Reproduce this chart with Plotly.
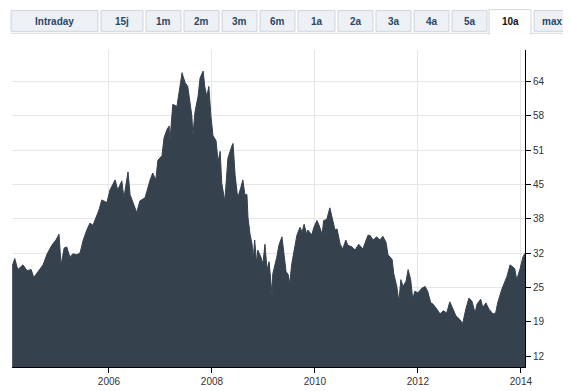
import plotly.graph_objects as go

# ---- data (decimal year, price) ----
years = [2004.12, 2004.17, 2004.23, 2004.33, 2004.41, 2004.49, 2004.54, 2004.60, 2004.72, 2004.80,
         2004.89, 2004.97, 2005.03, 2005.07, 2005.13, 2005.18, 2005.24, 2005.30, 2005.38, 2005.44,
         2005.50, 2005.57, 2005.63, 2005.69, 2005.77, 2005.81, 2005.86, 2005.96, 2006.02, 2006.12,
         2006.17, 2006.25, 2006.29, 2006.37, 2006.41, 2006.50, 2006.54, 2006.60, 2006.70, 2006.80,
         2006.85, 2006.91, 2006.95, 2007.03, 2007.07, 2007.13, 2007.17, 2007.18, 2007.24, 2007.32,
         2007.36, 2007.42, 2007.44, 2007.48, 2007.53, 2007.57, 2007.61, 2007.63, 2007.67, 2007.73,
         2007.77, 2007.83, 2007.86, 2007.90, 2007.94, 2007.98, 2008.02, 2008.08, 2008.12, 2008.16,
         2008.19, 2008.25, 2008.31, 2008.39, 2008.41, 2008.45, 2008.50, 2008.56, 2008.60, 2008.64,
         2008.68, 2008.70, 2008.74, 2008.78, 2008.80, 2008.83, 2008.87, 2008.89, 2008.95, 2008.99,
         2009.03, 2009.07, 2009.11, 2009.17, 2009.18, 2009.26, 2009.30, 2009.36, 2009.40, 2009.44,
         2009.48, 2009.51, 2009.55, 2009.61, 2009.65, 2009.71, 2009.75, 2009.79, 2009.84, 2009.86,
         2009.94, 2009.98, 2010.04, 2010.08, 2010.14, 2010.17, 2010.23, 2010.29, 2010.35, 2010.39,
         2010.43, 2010.49, 2010.54, 2010.60, 2010.64, 2010.72, 2010.78, 2010.85, 2010.93, 2011.03,
         2011.07, 2011.13, 2011.20, 2011.26, 2011.32, 2011.38, 2011.42, 2011.50, 2011.53, 2011.59,
         2011.63, 2011.67, 2011.71, 2011.77, 2011.81, 2011.86, 2011.90, 2011.94, 2012.00, 2012.08,
         2012.14, 2012.19, 2012.25, 2012.29, 2012.37, 2012.43, 2012.49, 2012.56, 2012.62, 2012.68,
         2012.74, 2012.80, 2012.87, 2012.93, 2012.99, 2013.05, 2013.11, 2013.15, 2013.22, 2013.26,
         2013.32, 2013.38, 2013.46, 2013.51, 2013.55, 2013.63, 2013.69, 2013.73, 2013.79, 2013.84,
         2013.88, 2013.92, 2013.98, 2014.04, 2014.08]
prices = [29.0, 30.5, 28.4, 29.3, 28.2, 28.4, 26.9, 27.7, 29.3, 31.4,
          33.0, 34.0, 35.1, 29.3, 32.5, 32.7, 30.8, 31.4, 31.2, 31.6,
          34.0, 35.9, 37.2, 36.8, 38.8, 39.8, 41.6, 41.1, 43.5, 45.4,
          43.5, 45.2, 42.0, 46.9, 42.6, 40.1, 39.2, 41.4, 42.0, 45.4,
          46.7, 45.4, 49.1, 50.0, 53.4, 55.0, 55.6, 52.3, 59.7, 59.3,
          62.1, 65.7, 65.0, 63.8, 63.1, 60.1, 57.5, 53.8, 58.2, 61.2,
          64.7, 66.0, 63.1, 61.2, 63.1, 57.5, 53.8, 52.8, 48.9, 50.8,
          44.8, 41.4, 49.5, 51.9, 52.3, 46.3, 42.0, 43.9, 45.4, 42.6,
          42.6, 38.3, 35.1, 33.2, 30.3, 34.0, 29.5, 32.1, 30.8, 29.5,
          33.2, 28.4, 29.9, 23.4, 27.5, 30.8, 33.0, 34.6, 31.2, 28.0,
          27.5, 25.8, 29.5, 33.2, 34.9, 36.4, 35.5, 37.0, 35.1, 35.9,
          35.0, 36.4, 37.7, 36.8, 35.1, 37.7, 37.9, 40.1, 37.7, 35.9,
          36.1, 33.2, 32.3, 34.0, 33.0, 32.7, 32.1, 33.2, 32.3, 34.9,
          34.9, 34.0, 34.6, 34.0, 34.7, 33.6, 31.2, 30.3, 27.7, 25.2,
          22.4, 26.5, 25.2, 26.2, 28.4, 26.5, 22.8, 24.3, 24.0, 24.9,
          25.2, 24.3, 22.1, 21.9, 20.9, 20.0, 20.6, 20.2, 22.3, 20.9,
          19.6, 19.1, 18.2, 20.9, 23.0, 22.4, 20.2, 21.9, 22.8, 21.2,
          22.1, 20.9, 20.0, 20.2, 22.1, 24.7, 26.2, 27.1, 29.3, 29.0,
          28.6, 26.5, 28.4, 30.8, 31.5]

x_ticks = [2006, 2008, 2010, 2012, 2014]
y_tick_vals = [12, 18.5, 25, 31.5, 38, 44.5, 51, 57.5, 64]
y_tick_text = ["12", "19", "25", "32", "38", "45", "51", "58", "64"]

tabs = ["Intraday", "15j", "1m", "2m", "3m", "6m", "1a", "2a", "3a", "4a", "5a", "10a", "max"]
tab_left = [11, 101, 146, 184, 222, 260, 298, 338, 376, 414, 452, 489, 534]
tab_right = [98, 143, 181, 219, 257, 295, 335, 373, 411, 449, 487, 531, 570]
active_tab = "10a"

# the page body has an 8px margin; compensate so the figure lands like the reference
OFF = 8
W, H = 571 - OFF, 391 - OFF
PL, PR, PT, PB = 12, 525, 50, 372      # plot box in window pixels
L, T = PL - OFF, PT - OFF
R, B = W - (PR - OFF), H - (PB - OFF)
pw, ph = W - L - R, H - T - B


def px(x):
    return (x - OFF - L) / pw


def py(y):
    return (H - B - (y - OFF)) / ph


fig = go.Figure()
fig.add_trace(go.Scatter(
    x=years, y=prices, mode="lines", fill="tozeroy",
    line=dict(color="#36414e", width=1), fillcolor="#36414e",
    hoverinfo="skip", showlegend=False))

shapes = []
annotations = []
shapes.append(dict(type="line", xref="paper", yref="paper", x0=px(11), x1=px(570),
                   y0=py(33), y1=py(33), line=dict(color="#d4d9de", width=1)))
for name, a, b in zip(tabs, tab_left, tab_right):
    if name == active_tab:
        shapes.append(dict(type="rect", xref="paper", yref="paper", x0=px(a), x1=px(b),
                           y0=py(34), y1=py(9), fillcolor="#ffffff",
                           line=dict(color="#d0d6dc", width=1)))
        shapes.append(dict(type="line", xref="paper", yref="paper", x0=px(a + 1), x1=px(b - 1),
                           y0=py(34), y1=py(34), line=dict(color="#ffffff", width=2)))
        color = "#111111"
    else:
        shapes.append(dict(type="rect", xref="paper", yref="paper", x0=px(a), x1=px(b),
                           y0=py(31), y1=py(10), fillcolor="#edf1f5",
                           line=dict(color="#cdd4db", width=1)))
        color = "#2b4766"
    annotations.append(dict(text="<b>%s</b>" % name, xref="paper", yref="paper",
                            x=px((a + b) / 2), y=py(21), showarrow=False,
                            xanchor="center", yanchor="middle",
                            font=dict(family="Liberation Sans, Arial, sans-serif",
                                      size=10, color=color)))

fig.update_layout(
    width=W, height=H,
    margin=dict(l=L, r=R, t=T, b=B, pad=0),
    paper_bgcolor="#ffffff", plot_bgcolor="#ffffff",
    shapes=shapes, annotations=annotations,
    font=dict(family="Liberation Sans, Arial, sans-serif", size=10, color="#333333"),
    xaxis=dict(range=[2004.117, 2014.08], tickvals=x_ticks, ticktext=[str(t) for t in x_ticks],
               showgrid=True, gridcolor="#e6e6e6", gridwidth=1, zeroline=False,
               showline=True, linecolor="#000000", linewidth=1,
               ticks="outside", ticklen=5, tickcolor="#000000", tickfont=dict(size=10)),
    yaxis=dict(range=[9.95, 70.0], side="right", tickvals=y_tick_vals, ticktext=y_tick_text,
               showgrid=True, gridcolor="#e6e6e6", gridwidth=1, zeroline=False,
               showline=True, linecolor="#000000", linewidth=1,
               ticks="outside", ticklen=5, tickcolor="#000000", tickfont=dict(size=10)),
)

fig.write_html("out.html")
